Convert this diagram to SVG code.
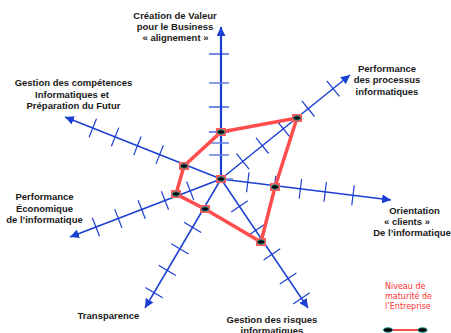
<svg xmlns="http://www.w3.org/2000/svg" width="451" height="333" viewBox="0 0 451 333">
<defs>
<marker id="ah" markerUnits="userSpaceOnUse" markerWidth="10" markerHeight="9" refX="9" refY="4.5" orient="auto">
<path d="M0,0 L9,4.5 L0,9 Z" fill="#1a3fd2"/>
</marker>
<g id="nodeMark">
<rect x="-5" y="-4" width="10" height="8" fill="#ff5a5a"/>
<ellipse cx="0" cy="0" rx="3.6" ry="2.2" fill="#000" stroke="#1a9090" stroke-width="1"/>
</g>
</defs>
<style>
.ax{stroke:#1a3fd2;stroke-width:1.5;fill:none}
.axv{stroke:#1a3fd2;stroke-width:2.2;fill:none}
.tk{stroke:#1a3fd2;stroke-width:1.2}
.tkl{stroke:#6f88e4;stroke-width:1.6}
.poly{stroke:#ff4d4d;stroke-width:3.5;fill:none;stroke-linejoin:miter}
.lbl{font-family:"Liberation Sans",Arial,sans-serif;font-size:9.5px;font-weight:bold;fill:#1a1a1a;text-anchor:middle}
.leg{font-family:"DejaVu Sans",sans-serif;font-size:8px;fill:#ff3030}
</style>
<rect width="451" height="333" fill="#fff"/>
<g id="connectors">
<line class="axv" x1="221" y1="179" x2="221" y2="27" marker-end="url(#ah)"/>
<line class="ax" x1="221" y1="179" x2="350" y2="75" marker-end="url(#ah)"/>
<line class="ax" x1="221" y1="179" x2="391" y2="200" marker-end="url(#ah)"/>
<line class="ax" x1="221" y1="179" x2="308" y2="308" marker-end="url(#ah)"/>
<line class="ax" x1="221" y1="179" x2="145" y2="308" marker-end="url(#ah)"/>
<line class="ax" x1="221" y1="179" x2="70" y2="237" marker-end="url(#ah)"/>
<line class="ax" x1="221" y1="179" x2="65" y2="117" marker-end="url(#ah)"/>
<g id="ticks">
<line class="tk" x1="209" y1="54" x2="229" y2="54"/>
<line class="tkl" x1="209" y1="83" x2="229" y2="83"/>
<line class="tk" x1="209" y1="107" x2="229" y2="107"/>
<line class="tk" x1="209" y1="132" x2="229" y2="132"/>
<line class="tkl" x1="209" y1="143" x2="229" y2="143"/>
<line class="tkl" x1="209" y1="155" x2="229" y2="155"/>
<line class="tkl" x1="217" y1="179" x2="233" y2="179"/>
<line class="tk" x1="236.5" y1="153.6" x2="249.1" y2="169.2"/>
<line class="tk" x1="256.0" y1="137.9" x2="268.6" y2="153.5"/>
<line class="tk" x1="277.0" y1="121.0" x2="289.6" y2="136.6"/>
<line class="tk" x1="301.9" y1="100.9" x2="314.5" y2="116.5"/>
<line class="tk" x1="326.8" y1="80.8" x2="339.4" y2="96.4"/>
<line class="tk" x1="249.0" y1="172.4" x2="246.6" y2="192.2"/>
<line class="tk" x1="275.8" y1="175.7" x2="273.4" y2="195.5"/>
<line class="tk" x1="301.6" y1="178.9" x2="299.2" y2="198.7"/>
<line class="tk" x1="326.4" y1="182.0" x2="324.0" y2="201.8"/>
<line class="tk" x1="354.2" y1="185.4" x2="351.8" y2="205.2"/>
<line class="tk" x1="231.2" y1="212.0" x2="247.8" y2="200.8"/>
<line class="tk" x1="247.4" y1="236.0" x2="264.0" y2="224.8"/>
<line class="tk" x1="263.6" y1="260.0" x2="280.2" y2="248.8"/>
<line class="tk" x1="279.8" y1="284.1" x2="296.4" y2="272.9"/>
<line class="tk" x1="293.2" y1="304.0" x2="309.8" y2="292.8"/>
<line class="tk" x1="184.0" y1="222.2" x2="201.2" y2="232.4"/>
<line class="tk" x1="171.3" y1="243.7" x2="188.5" y2="253.9"/>
<line class="tk" x1="158.6" y1="265.2" x2="175.8" y2="275.4"/>
<line class="tk" x1="145.4" y1="287.6" x2="162.6" y2="297.8"/>
<line class="tk" x1="186.6" y1="181.5" x2="193.8" y2="200.1"/>
<line class="tk" x1="161.4" y1="191.2" x2="168.6" y2="209.8"/>
<line class="tk" x1="138.1" y1="200.2" x2="145.3" y2="218.8"/>
<line class="tk" x1="114.7" y1="209.1" x2="121.9" y2="227.7"/>
<line class="tk" x1="92.3" y1="217.7" x2="99.5" y2="236.3"/>
<line class="tk" x1="163.4" y1="145.3" x2="156.0" y2="163.9"/>
<line class="tk" x1="141.1" y1="136.5" x2="133.7" y2="155.1"/>
<line class="tk" x1="118.8" y1="127.6" x2="111.4" y2="146.2"/>
<line class="tk" x1="96.5" y1="118.7" x2="89.1" y2="137.3"/>
</g>
<polygon class="poly" points="221,132 297,118 275,187 261,242 205,209 176,194 184,166"/>
</g>
<g id="n-center"><use href="#nodeMark" x="221" y="179"/></g>
<g id="n-valeur"><use href="#nodeMark" x="221" y="132"/></g>
<g id="n-processus"><use href="#nodeMark" x="297" y="118"/></g>
<g id="n-clients"><use href="#nodeMark" x="275" y="187"/></g>
<g id="n-risques"><use href="#nodeMark" x="261" y="242"/></g>
<g id="n-transparence"><use href="#nodeMark" x="205" y="209"/></g>
<g id="n-economique"><use href="#nodeMark" x="176" y="194"/></g>
<g id="n-competences"><use href="#nodeMark" x="184" y="166"/></g>
<g id="label-valeur">
<text class="lbl" x="175" y="18.5">Création de Valeur</text>
<text class="lbl" x="175" y="29.5">pour le Business</text>
<text class="lbl" x="175.5" y="40.5">« alignement »</text>
</g>
<g id="label-competences">
<text class="lbl" x="73.5" y="86">Gestion des compétences</text>
<text class="lbl" x="72" y="97.5">Informatiques et</text>
<text class="lbl" x="73.5" y="108.5">Préparation du Futur</text>
</g>
<g id="label-processus">
<text class="lbl" x="387" y="71.5">Performance</text>
<text class="lbl" x="387" y="83">des processus</text>
<text class="lbl" x="387" y="94.5">informatiques</text>
</g>
<g id="label-economique">
<text class="lbl" x="44.5" y="200">Performance</text>
<text class="lbl" x="44.5" y="211.5">Économique</text>
<text class="lbl" x="44.5" y="223">de l’informatique</text>
</g>
<g id="label-clients">
<text class="lbl" x="414.5" y="214">Orientation</text>
<text class="lbl" x="407" y="224.5">« clients »</text>
<text class="lbl" x="412" y="235.5">De l’informatique</text>
</g>
<g id="label-transparence">
<text class="lbl" x="108.5" y="318.5">Transparence</text>
</g>
<g id="label-risques">
<text class="lbl" x="272" y="322.5">Gestion des risques</text>
<text class="lbl" x="272" y="334">informatiques</text>
</g>
<g id="legend">
<text class="leg" x="385" y="289">Niveau de</text>
<text class="leg" x="385" y="299">maturité de</text>
<text class="leg" x="385" y="309">l’Entreprise</text>
<line x1="390" y1="330" x2="421" y2="330" stroke="#ff4d4d" stroke-width="2"/>
<ellipse cx="388" cy="330" rx="4.5" ry="2.2" fill="#000" stroke="#1a9090" stroke-width="1"/>
<ellipse cx="422.5" cy="330" rx="4.5" ry="2.2" fill="#000" stroke="#1a9090" stroke-width="1"/>
</g>
</svg>
